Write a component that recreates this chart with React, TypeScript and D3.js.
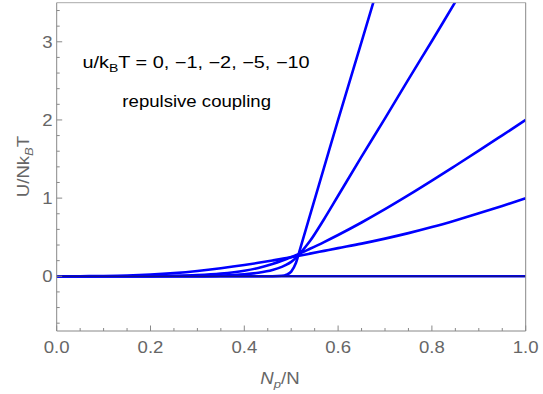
import * as d3 from "d3";
import { useEffect } from "react";

const xs = [0, 0.05, 0.1, 0.15, 0.2, 0.25, 0.3, 0.35, 0.4, 0.43, 0.46, 0.48, 0.49, 0.5, 0.51, 0.52, 0.54, 0.57, 0.6, 0.65, 0.7, 0.75, 0.8, 0.85, 0.9, 0.95, 1.0];

const u0 = [0, 0, 0, 0, 0, 0, 0, 0, 0, 0, 0, 0, 0, 0, 0, 0, 0, 0, 0, 0, 0, 0, 0, 0, 0, 0, 0];
const u1 = [0, 0.001, 0.004, 0.01, 0.022, 0.041, 0.068, 0.103, 0.144, 0.172, 0.202, 0.223, 0.234, 0.245, 0.256, 0.267, 0.29, 0.325, 0.36, 0.418, 0.482, 0.552, 0.63, 0.715, 0.805, 0.9, 1.0];
const u2 = [0, 0, 0.0001, 0.0006, 0.002, 0.006, 0.015, 0.034, 0.071, 0.107, 0.157, 0.198, 0.221, 0.245, 0.27, 0.296, 0.352, 0.438, 0.528, 0.688, 0.858, 1.037, 1.223, 1.414, 1.607, 1.803, 2.0];
const u5 = [0, 0, 0, 0, 0, 0.0005, 0.002, 0.008, 0.025, 0.045, 0.08, 0.12, 0.148, 0.185, 0.235, 0.3, 0.45, 0.73, 1.03, 1.53, 2.02, 2.52, 3.01, 3.51, 4.0, 4.5, 5.0];
const u10 = [0, 0, 0, 0, 0, 0, 0, 0, 0, 0, 0.001, 0.006, 0.02, 0.06, 0.17, 0.37, 0.78, 1.39, 2.0, 3.0, 4.0, 5.0, 6.0, 7.0, 8.0, 9.0, 10.0];

const series = [u0, u1, u2, u5, u10];

const xTicks = [0, 0.2, 0.4, 0.6, 0.8, 1.0];
const yTicks = [0, 1, 2, 3];

const width = 543;
const height = 394;
const font = "'Liberation Sans', Arial, sans-serif";
const sx = 1.14; // horizontal stretch of the text in the reference

const App = () => {
  useEffect(() => {
    document.body.style.margin = "0";
  }, []);

  const x = d3.scaleLinear().domain([0, 1]).range([56.7, 525.7]);
  const y = d3.scaleLinear().domain([-0.7, 3.5]).range([331, 2.7]);

  const line = d3
    .line<number>()
    .x((_, i) => x(xs[i]))
    .y((d) => y(d))
    .curve(d3.curveMonotoneX);

  const xMinor = d3.range(0, 1.0001, 0.05).filter((v) => !xTicks.some((t) => Math.abs(t - v) < 1e-6));
  const yMinor = d3.range(-0.6, 3.5, 0.2).filter((v) => !yTicks.some((t) => Math.abs(t - v) < 1e-6));

  const [x0, x1] = x.range();
  const [y0, y1] = y.range();

  return (
    <svg width={width} height={height} style={{ display: "block", background: "white" }}>
      <defs>
        <clipPath id="plot">
          <rect x={x0} y={y1} width={x1 - x0} height={y0 - y1} />
        </clipPath>
      </defs>

      {/* curves */}
      <g clipPath="url(#plot)">
        {series.map((s, i) => (
          <path key={i} d={line(s)!} fill="none" stroke="#0000ff" strokeWidth={2.6} strokeLinejoin="round" />
        ))}
        <line x1={x0} x2={x1} y1={y(0)} y2={y(0)} stroke="#222" strokeOpacity={0.7} strokeWidth={1} />
      </g>

      {/* frame */}
      <line x1={x0} x2={x1} y1={y1} y2={y1} stroke="#aaa" strokeWidth={1} />
      <line x1={x1} x2={x1} y1={y1} y2={y0} stroke="#888" strokeWidth={1} />
      <line x1={x0} x2={x1} y1={y0} y2={y0} stroke="#888" strokeWidth={1} />
      <line x1={x0} x2={x0} y1={y1} y2={y0} stroke="#888" strokeWidth={1} />

      {/* x ticks */}
      {xTicks.map((t) => (
        <g key={"xt" + t}>
          <line x1={x(t)} x2={x(t)} y1={y0} y2={y0 - 5.5} stroke="#888" />
          <g transform={`translate(${x(t)},352.7) scale(${sx},1)`}>
            <text textAnchor="middle" fontFamily={font} fontSize={16.3} fill="#666">
              {t.toFixed(1)}
            </text>
          </g>
        </g>
      ))}
      {xMinor.map((t) => (
        <line key={"xm" + t} x1={x(t)} x2={x(t)} y1={y0} y2={y0 - 3} stroke="#888" />
      ))}

      {/* y ticks */}
      {yTicks.map((t) => (
        <g key={"yt" + t}>
          <line x1={x0} x2={x0 + 5.5} y1={y(t)} y2={y(t)} stroke="#888" />
          <g transform={`translate(52.5,${y(t) + 5.9}) scale(${sx},1)`}>
            <text textAnchor="end" fontFamily={font} fontSize={16.3} fill="#666">
              {t}
            </text>
          </g>
        </g>
      ))}
      {yMinor.map((t) => (
        <line key={"ym" + t} x1={x0} x2={x0 + 3} y1={y(t)} y2={y(t)} stroke="#888" />
      ))}

      {/* axis labels */}
      <g transform={`translate(280,384) scale(${sx},1)`}>
        <text textAnchor="middle" fontFamily={font} fontSize={16.3} fill="#666">
          <tspan fontStyle="italic">N</tspan>
          <tspan fontStyle="italic" fontSize={11.5} dy={4}>p</tspan>
          <tspan dy={-4}>/N</tspan>
        </text>
      </g>
      <g transform={`translate(29,166.5) rotate(-90) scale(${sx},1)`}>
        <text textAnchor="middle" fontFamily={font} fontSize={16.3} fill="#666">
          U/Nk
          <tspan fontStyle="italic" fontSize={11.5} dy={4}>B</tspan>
          <tspan dy={-4}>T</tspan>
        </text>
      </g>

      {/* annotations */}
      <g transform={`translate(196,68.3) scale(1.22,1)`}>
        <text textAnchor="middle" fontFamily={font} fontSize={16.3} fill="#000">
          u/k
          <tspan fontSize={11.5} dy={4}>B</tspan>
          <tspan dy={-4}>T = 0, −1, −2, −5, −10</tspan>
        </text>
      </g>
      <g transform={`translate(196.7,107.2) scale(${sx},1)`}>
        <text textAnchor="middle" fontFamily={font} fontSize={16.3} fill="#000">
          repulsive coupling
        </text>
      </g>
    </svg>
  );
};

export default App;
